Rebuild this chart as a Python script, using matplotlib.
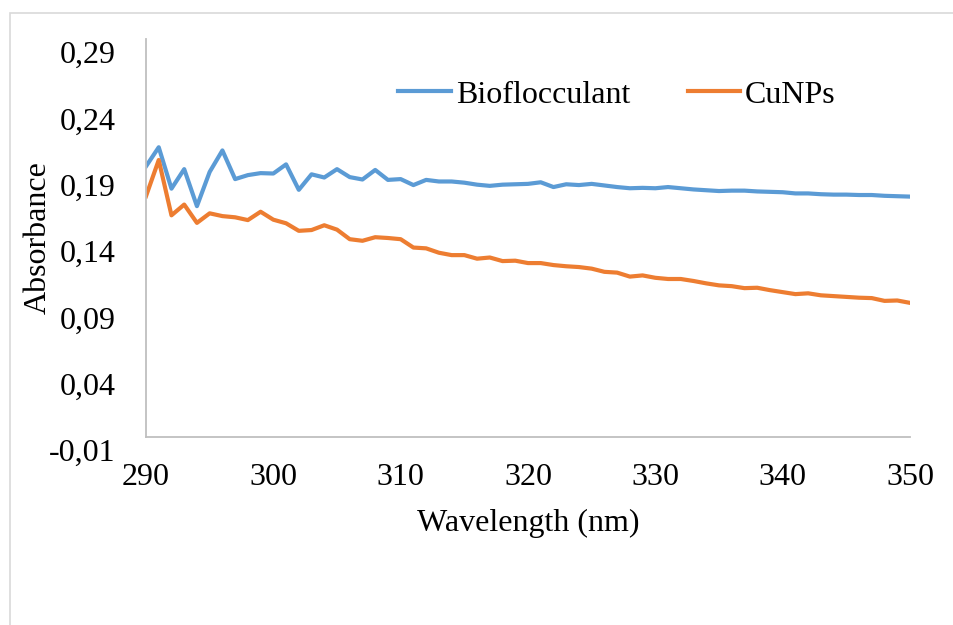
import matplotlib
matplotlib.use("Agg")
import matplotlib.pyplot as plt
import matplotlib.transforms as mtransforms
from matplotlib.patches import Rectangle

plt.rcParams['font.family'] = ['Liberation Serif', 'DejaVu Serif']

wavelength = list(range(290, 351))
biofloc = [0.194, 0.2084, 0.1772, 0.1919, 0.164, 0.1898, 0.206, 0.1844, 0.1874, 0.1889,
           0.1886, 0.1955, 0.1763, 0.188, 0.1856, 0.1919, 0.1859, 0.1841, 0.1913, 0.1838,
           0.1844, 0.1799, 0.1838, 0.1826, 0.1826, 0.1817, 0.1802, 0.1793, 0.1802, 0.1805,
           0.1808, 0.182, 0.1784, 0.1805, 0.1799, 0.1808, 0.1796, 0.1784, 0.1775, 0.1778,
           0.1775, 0.1784, 0.1775, 0.1766, 0.176, 0.1754, 0.1757, 0.1757, 0.1751, 0.1748,
           0.1745, 0.1736, 0.1736, 0.173, 0.1727, 0.1727, 0.1724, 0.1724, 0.1718, 0.1715,
           0.1712]
cunps = [0.1715, 0.1988, 0.1571, 0.1652, 0.1514, 0.1586, 0.1565, 0.1556, 0.1535, 0.1598,
         0.1538, 0.1511, 0.1454, 0.146, 0.1496, 0.1463, 0.1391, 0.1379, 0.1406, 0.14,
         0.1391, 0.1328, 0.1322, 0.1289, 0.1271, 0.1271, 0.1244, 0.1253, 0.1226, 0.1229,
         0.1211, 0.1211, 0.1196, 0.1187, 0.1181, 0.1169, 0.1145, 0.1139, 0.1109, 0.1118,
         0.11, 0.1091, 0.1091, 0.1076, 0.1058, 0.1043, 0.1037, 0.1022, 0.1025, 0.1007,
         0.0992, 0.0977, 0.0983, 0.0968, 0.0962, 0.0956, 0.095, 0.0947, 0.0926, 0.0929,
         0.0911]
x_ticks = [290, 300, 310, 320, 330, 340, 350]
y_ticks = [-0.01, 0.04, 0.09, 0.14, 0.19, 0.24, 0.29]
y_labels = ["-0,01", "0,04", "0,09", "0,14", "0,19", "0,24", "0,29"]

W, H = 954, 625
fig = plt.figure(figsize=(W / 100, H / 100), dpi=100)

# chart-area border (cropped on right and bottom)
fig.patches.append(Rectangle((10 / W, -0.1), 1.2, 1 - 13 / H + 0.1, transform=fig.transFigure,
                             fill=False, edgecolor='#d9d9d9', linewidth=1.2))

ax = fig.add_axes([146 / W, 1 - 437 / H, (910 - 146) / W, (437 - 39) / H])
ax.plot(wavelength, biofloc, color='#5B9BD5', lw=3.0, label='Bioflocculant',
        solid_joinstyle='round')
ax.plot(wavelength, cunps, color='#ED7D31', lw=3.0, label='CuNPs', solid_joinstyle='round')

ax.set_xlim(290, 350)
ax.set_ylim(-0.01, 0.29)
for s in ['top', 'right']:
    ax.spines[s].set_visible(False)
for s in ['left', 'bottom']:
    ax.spines[s].set_color('#bfbfbf')
    ax.spines[s].set_linewidth(1.3)

ax.set_xticks(x_ticks)
ax.set_xticklabels([str(t) for t in x_ticks], fontsize=23)
ax.set_yticks(y_ticks)
ax.set_yticklabels(y_labels, fontsize=23)
ax.tick_params(axis='x', length=0, pad=19)
ax.tick_params(axis='y', length=0, pad=22)
ax.set_xticks([x_ticks[0]], minor=True)
ax.tick_params(axis='x', which='minor', length=14, color='#bfbfbf', width=1.3)

off = mtransforms.ScaledTranslation(0, -13 / 100, fig.dpi_scale_trans)
for lab in ax.get_yticklabels():
    lab.set_transform(lab.get_transform() + off)

ax.set_xlabel('Wavelength (nm)', fontsize=23, labelpad=12)
ax.set_ylabel('Absorbance', fontsize=23, labelpad=-3)

ax.legend(loc='center', bbox_to_anchor=(617 / W, 1 - 95 / H), bbox_transform=fig.transFigure,
          ncol=2, frameon=False, fontsize=23, handlelength=1.65, handletextpad=0.15,
          columnspacing=1.8)

fig.savefig('out.png', dpi=100)
